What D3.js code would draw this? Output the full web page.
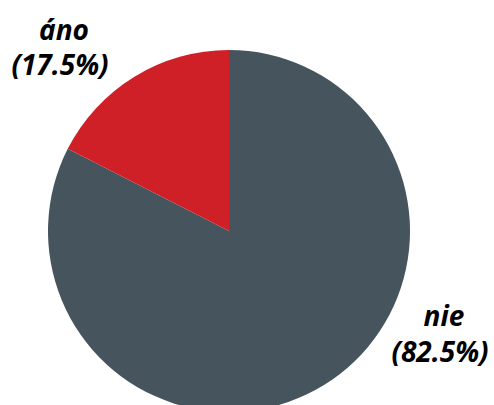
<!DOCTYPE html>
<html>
<head>
<meta charset="utf-8">
<script src="https://cdn.jsdelivr.net/npm/d3@7"></script>
<style>
  html, body { margin: 0; padding: 0; background: #fff; }
  svg { display: block; }
</style>
</head>
<body>
<div class="canvas"></div>
<script>
const categories = ["nie", "áno"];
const values = [82.5, 17.5];
const colors = ["#46545e", "#d02027"];

const dims = { width: 494, height: 405, radius: 181 };
const cent = { x: 229, y: 231 };

// label placement (layout only), per slice
const labelPos = [
  { x: 440, lines: [326, 362] },
  { x: 60, lines: [40, 75] }
];

const svg = d3
  .select(".canvas")
  .append("svg")
  .attr("width", dims.width)
  .attr("height", dims.height);

const graph = svg
  .append("g")
  .attr("transform", `translate(${cent.x}, ${cent.y})`);

const data = categories.map((c, i) => ({ name: c, value: values[i] }));

const pie = d3
  .pie()
  .sort(null)
  .value((d) => d.value);

const arcPath = d3.arc().outerRadius(dims.radius).innerRadius(0);

const color = d3.scaleOrdinal().domain(categories).range(colors);

graph
  .selectAll("path")
  .data(pie(data))
  .enter()
  .append("path")
  .attr("d", arcPath)
  .attr("fill", (d) => color(d.data.name));

// labels: one text per line so the line boxes stay apart
const lbl = svg.append("g")
  .attr("text-anchor", "middle")
  .attr("font-family", "'Open Sans', sans-serif")
  .attr("font-weight", "bold")
  .attr("font-style", "italic")
  .attr("font-size", 28)
  .attr("fill", "#000");

pie(data).forEach((d, i) => {
  lbl.append("text")
    .attr("x", labelPos[i].x + 4)
    .attr("y", labelPos[i].lines[0])
    .text(d.data.name);
  lbl.append("text")
    .attr("x", labelPos[i].x)
    .attr("y", labelPos[i].lines[1])
    .text(`(${d.data.value.toFixed(1)}%)`);
});
</script>
</body>
</html>
